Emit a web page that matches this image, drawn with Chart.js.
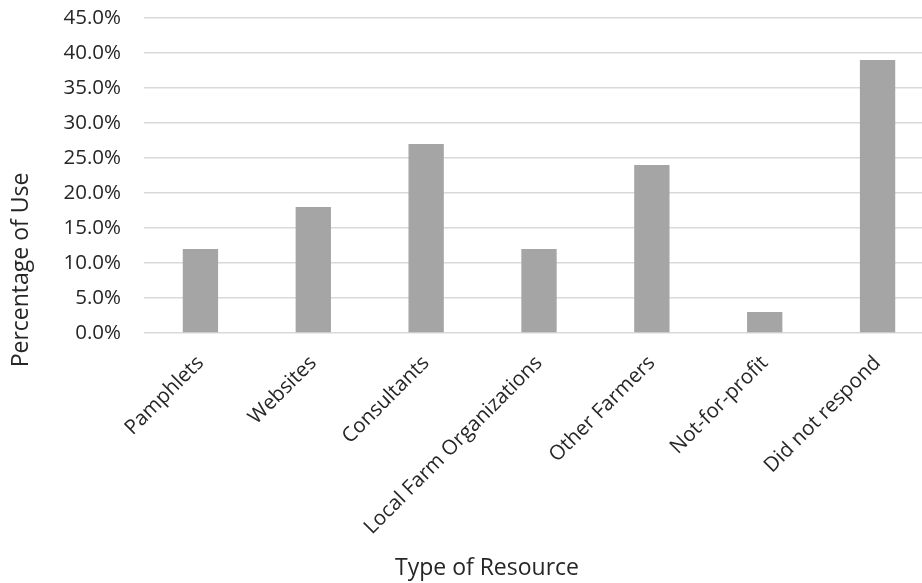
<!DOCTYPE html>
<html>
<head>
<meta charset="utf-8">
<script src="https://cdn.jsdelivr.net/npm/chart.js@4/dist/chart.umd.min.js"></script>
<style>
  html, body { margin: 0; padding: 0; background: #fff; overflow: hidden; }
  #wrap { width: 934px; height: 583px; position: relative; }
</style>
</head>
<body>
<div id="wrap"><canvas id="c"></canvas></div>
<script>
const categories = ["Pamphlets", "Websites", "Consultants", "Local Farm Organizations", "Other Farmers", "Not-for-profit", "Did not respond"];
const usePercent = [12, 18, 27, 12, 24, 3, 39];
const yTickMax = 45;
const yTickStep = 5;
const xTitle = "Type of Resource";
const yTitle = "Percentage of Use";

const FONT = "'Open Sans', 'Noto Sans', sans-serif";
const TEXT = "#262626";

const titlePlugin = {
  id: 'axisTitles',
  afterDraw(chart) {
    const ctx = chart.ctx;
    ctx.save();
    ctx.fillStyle = TEXT;
    ctx.font = "23px " + FONT;
    ctx.textAlign = 'center';
    ctx.textBaseline = 'middle';
    ctx.fillText(xTitle, 487, 568);
    ctx.translate(21, 270);
    ctx.rotate(-Math.PI / 2);
    ctx.fillText(yTitle, 0, 0);
    ctx.restore();
  }
};

new Chart(document.getElementById('c'), {
  type: 'bar',
  data: {
    labels: categories,
    datasets: [{
      data: usePercent,
      backgroundColor: '#A5A5A5',
      borderWidth: 0,
      categoryPercentage: 1.0,
      barPercentage: 0.313
    }]
  },
  options: {
    responsive: true,
    maintainAspectRatio: false,
    animation: false,
    events: [],
    layout: { padding: { top: 18, right: 0, left: 0, bottom: 0 } },
    plugins: { legend: { display: false }, tooltip: { enabled: false } },
    scales: {
      x: {
        grid: { display: false, drawTicks: false },
        border: { display: false },
        ticks: {
          color: TEXT,
          font: { family: FONT, size: 20.5 },
          minRotation: 45,
          maxRotation: 45,
          autoSkip: false,
          padding: 18
        },
        afterFit(scale) {
          scale.height = 250;
          scale.paddingLeft = 0; scale.paddingRight = 0;
          scale.paddingTop = 0; scale.paddingBottom = 0;
        }
      },
      y: {
        min: 0,
        max: yTickMax,
        grid: { color: '#D9D9D9', lineWidth: 1.5, drawTicks: false },
        border: { display: false },
        ticks: {
          stepSize: yTickStep,
          color: TEXT,
          font: { family: FONT, size: 20.5 },
          padding: 23,
          callback: v => v.toFixed(1) + '%'
        },
        afterFit(scale) {
          scale.width = 144;
          scale.paddingTop = 0; scale.paddingBottom = 0;
          scale.paddingLeft = 0; scale.paddingRight = 0;
        }
      }
    }
  },
  plugins: [titlePlugin]
});
</script>
</body>
</html>
